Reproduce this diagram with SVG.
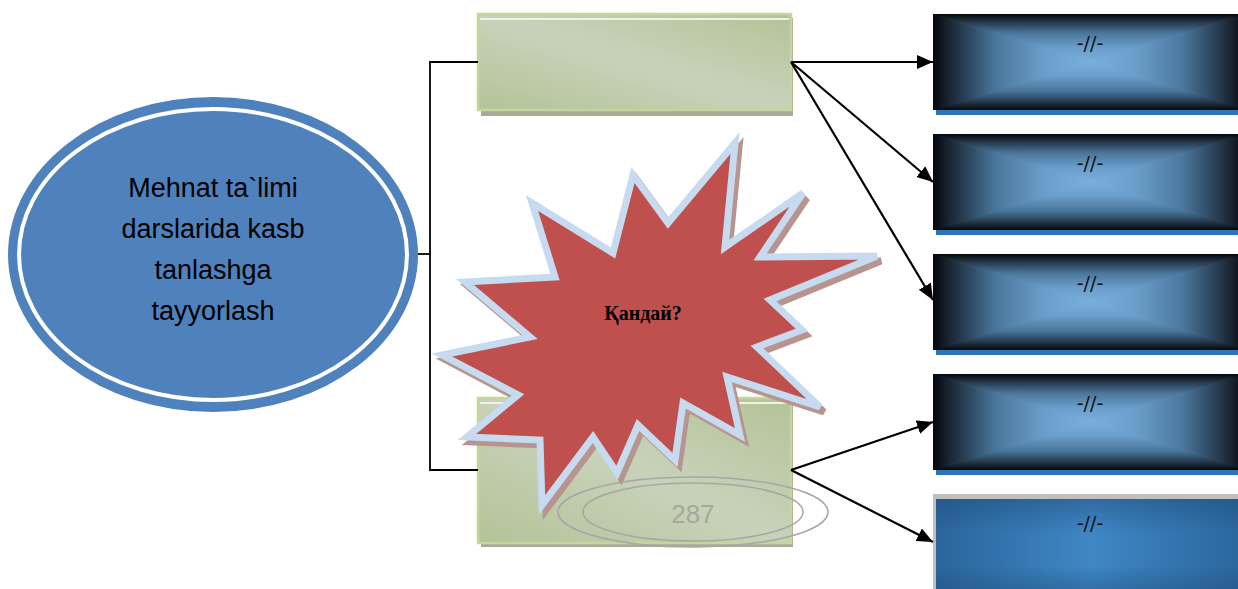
<svg xmlns="http://www.w3.org/2000/svg" xmlns:xlink="http://www.w3.org/1999/xlink" width="1238" height="589" viewBox="0 0 1238 589">
<style>
.conn{fill:none;stroke:#000;stroke-width:1.8}
.arr{fill:none;stroke:#000;stroke-width:2.2}
.gfill{fill:url(#gGreen);stroke:#c3d69b;stroke-width:2.5}
.gshadow{fill:#a6ad95}
.ghl{stroke:#eef3e4;stroke-width:2}
.tT{fill:url(#dT);stroke:url(#dT);stroke-width:1}
.tB{fill:url(#dB);stroke:url(#dB);stroke-width:1}
.tL{fill:url(#dL);stroke:url(#dL);stroke-width:1}
.tR{fill:url(#dR);stroke:url(#dR);stroke-width:1}
.strip{fill:#2e75b6}
.dash{font-family:"DejaVu Sans","Liberation Sans",sans-serif;font-size:19px;fill:#111;text-anchor:middle}
.main{font-family:"Liberation Sans",Arial,sans-serif;font-size:27px;fill:#000;text-anchor:middle}
</style>
<defs>
<linearGradient id="gGreen" x1="0" y1="1" x2="1" y2="0">
<stop offset="0" stop-color="#b3c397"/>
<stop offset="0.5" stop-color="#c8d2ba"/>
<stop offset="1" stop-color="#b3c397"/>
</linearGradient>
<linearGradient id="dL" x1="0" y1="0" x2="1" y2="0">
<stop offset="0" stop-color="#04070b"/>
<stop offset="0.12" stop-color="#1c2a38"/>
<stop offset="0.4" stop-color="#4a769c"/>
<stop offset="0.7" stop-color="#6a9dc9"/>
<stop offset="1" stop-color="#7aaedc"/>
</linearGradient>
<linearGradient id="dR" href="#dL" xlink:href="#dL" x1="1" y1="0" x2="0" y2="0"/>
<linearGradient id="dT" href="#dL" xlink:href="#dL" x1="0" y1="0" x2="0" y2="1"/>
<linearGradient id="dB" href="#dL" xlink:href="#dL" x1="0" y1="1" x2="0" y2="0"/>
<linearGradient id="gBlueH" x1="0" y1="0" x2="1" y2="0">
<stop offset="0" stop-color="#2a659c"/>
<stop offset="0.5" stop-color="#3f87c5"/>
<stop offset="1" stop-color="#2a659c"/>
</linearGradient>
<linearGradient id="gBlueV" x1="0" y1="0" x2="0" y2="1">
<stop offset="0" stop-color="#1f4f7c" stop-opacity="0.5"/>
<stop offset="0.35" stop-color="#1f4f7c" stop-opacity="0"/>
<stop offset="0.7" stop-color="#1f4f7c" stop-opacity="0"/>
<stop offset="1" stop-color="#1f4f7c" stop-opacity="0.5"/>
</linearGradient>
<marker id="ah" markerUnits="userSpaceOnUse" markerWidth="18" markerHeight="16" refX="16" refY="7" orient="auto">
<path d="M0,0 L16,7 L0,14 Z" fill="#000"/>
</marker>
<polygon id="star" points="735,143 725,247 803,193 760,257 877,256 770,300 802,330 757,347 820,407 727,377 740,435 683,403 675,460 638,425 617,473 593,437 542,505 540,440 467,437 518,395 442,355 530,337 465,282 555,277 532,203 613,253 633,175 668,223"/>
<clipPath id="boxclip"><rect x="0" y="0" width="314" height="96"/></clipPath>
<g id="dark" clip-path="url(#boxclip)">
<rect x="0" y="0" width="314" height="96" fill="#4a769c"/>
<polygon class="tL" points="0,0 157,48 0,96"/>
<polygon class="tR" points="314,0 157,48 314,96"/>
<polygon class="tT" points="0,0 314,0 157,48"/>
<polygon class="tB" points="0,96 314,96 157,48"/>
</g>
</defs>

<g id="ellipse-node">
<ellipse cx="213" cy="254.5" rx="205" ry="157.5" fill="#4f81bd"/>
<ellipse cx="213" cy="254.5" rx="194" ry="145.5" fill="none" stroke="#fff" stroke-width="4"/>
<text class="main" x="213" y="197">Mehnat ta`limi</text>
<text class="main" x="213" y="238">darslarida kasb</text>
<text class="main" x="213" y="279">tanlashga</text>
<text class="main" x="213" y="320">tayyorlash</text>
</g>

<g id="green-top">
<rect class="gshadow" x="481" y="18" width="312" height="98"/>
<rect class="gfill" x="478" y="14" width="313" height="96"/>
<line class="ghl" x1="480" y1="19" x2="789" y2="19"/>
</g>

<g id="green-bottom">
<rect class="gshadow" x="481" y="402" width="312" height="145"/>
<rect class="gfill" x="478" y="398" width="313" height="145"/>
<line class="ghl" x1="480" y1="403" x2="789" y2="403"/>
</g>

<g id="page-number">
<ellipse cx="693" cy="512" rx="135" ry="35" fill="none" stroke="#a6a6a6" stroke-width="1.5"/>
<ellipse cx="693" cy="512" rx="110" ry="29" fill="none" stroke="#a6a6a6" stroke-width="1.5"/>
<text x="693" y="523" font-family="Liberation Sans,Arial,sans-serif" font-size="26" fill="#a5a89a" text-anchor="middle">287</text>
</g>

<g id="box1">
<use xlink:href="#dark" href="#dark" transform="translate(933,14)"/>
<rect class="strip" x="936" y="110" width="302" height="5"/>
<text class="dash" x="1090" y="50">-//-</text>
</g>
<g id="box2">
<use xlink:href="#dark" href="#dark" transform="translate(933,134)"/>
<rect class="strip" x="936" y="230" width="302" height="5"/>
<text class="dash" x="1090" y="170">-//-</text>
</g>
<g id="box3">
<use xlink:href="#dark" href="#dark" transform="translate(933,254)"/>
<rect class="strip" x="936" y="350" width="302" height="5"/>
<text class="dash" x="1090" y="290">-//-</text>
</g>
<g id="box4">
<use xlink:href="#dark" href="#dark" transform="translate(933,374)"/>
<rect class="strip" x="936" y="470" width="302" height="5"/>
<text class="dash" x="1090" y="410">-//-</text>
</g>
<g id="box5">
<rect x="933" y="494" width="314" height="100" fill="#bfbfbf"/>
<rect x="936" y="499" width="311" height="95" fill="url(#gBlueH)"/>
<rect x="936" y="499" width="311" height="95" fill="url(#gBlueV)"/>
<text class="dash" x="1090" y="530">-//-</text>
</g>

<g id="connectors">
<polyline class="conn" points="418,254 430,254"/>
<polyline class="conn" points="478,62 430,62 430,470 478,470"/>
<line class="arr" x1="791" y1="62" x2="933" y2="62" marker-end="url(#ah)"/>
<line class="arr" x1="791" y1="62" x2="933" y2="182" marker-end="url(#ah)"/>
<line class="arr" x1="791" y1="62" x2="933" y2="300" marker-end="url(#ah)"/>
<line class="arr" x1="791" y1="470" x2="933" y2="422" marker-end="url(#ah)"/>
<line class="arr" x1="791" y1="470" x2="933" y2="542" marker-end="url(#ah)"/>
</g>

<g id="starburst">
<use xlink:href="#star" href="#star" transform="translate(4,5)" fill="#a67f7c" stroke="#b8948f" stroke-width="7" stroke-linejoin="miter"/>
<use xlink:href="#star" href="#star" fill="#c0504d" stroke="#c6dbef" stroke-width="7" stroke-linejoin="miter"/>
<text x="643" y="320" font-family="Liberation Serif,DejaVu Serif,serif" font-weight="bold" font-size="20" fill="#000" text-anchor="middle">Қандай?</text>
</g>
</svg>
